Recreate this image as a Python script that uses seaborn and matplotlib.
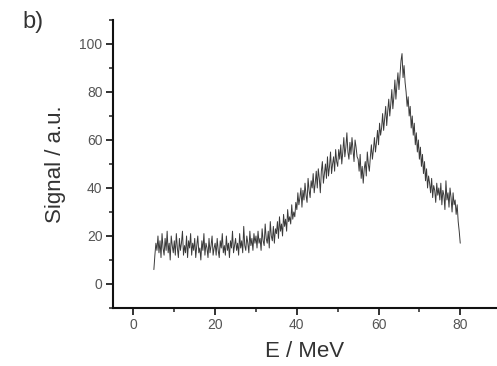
import numpy as np
import pandas as pd
import matplotlib
matplotlib.use("Agg")
import matplotlib.pyplot as plt
import seaborn as sns
from matplotlib.ticker import MultipleLocator

e_start, e_stop, n_points = 5.0, 80.0, 301
signal = [
    6, 12, 17, 14, 20, 13, 18, 11, 21, 15, 12, 19, 14, 22, 13, 17, 10, 20, 16, 13,
    18, 12, 21, 15, 11, 19, 14, 17, 22, 12, 16, 13, 20, 11, 18, 15, 21, 12, 17, 14,
    19, 11, 16, 20, 13, 15, 10, 18, 14, 21, 12, 17, 15, 11, 19, 13, 16, 20, 12, 15,
    17, 12, 19, 14, 11, 18, 15, 21, 13, 16, 12, 20, 14, 17, 11, 18, 15, 22, 13, 16,
    19, 14, 17, 12, 21, 15, 18, 13, 24, 16, 14, 20, 17, 13, 22, 16, 19, 14, 21, 17,
    20, 15, 22, 17, 19, 14, 23, 18, 16, 25, 19, 17, 22, 15, 26, 20, 18, 24, 17, 23,
    21, 26, 19, 28, 22, 25, 20, 29, 24, 27, 22, 31, 26, 28, 25, 33, 27, 30, 28, 34,
    31, 38, 33, 36, 40, 32, 39, 35, 42, 37, 34, 44, 39, 36, 43, 40, 46, 38, 42, 47,
    40, 48, 44, 38, 47, 51, 42, 46, 50, 44, 53, 45, 49, 55, 46, 50, 53, 47, 56, 51,
    49, 56, 52, 58, 50, 55, 61, 53, 57, 63, 55, 52, 59, 54, 61, 56, 51, 60, 57, 53,
    52, 47, 54, 44, 49, 42, 48, 51, 45, 55, 50, 47, 53, 58, 52, 56, 61, 55, 59, 64,
    58, 67, 62, 65, 71, 64, 69, 74, 66, 72, 77, 70, 75, 81, 73, 78, 85, 77, 83, 88,
    81, 87, 93, 96, 86, 91, 84, 80, 74, 78, 70, 74, 65, 70, 62, 67, 58, 63, 55, 60,
    52, 57, 49, 54, 46, 51, 43, 48, 40, 45, 42, 38, 44, 36, 41, 39, 34, 42, 37, 40,
    35, 42, 33, 39, 37, 31, 43, 35, 38, 32, 40, 36, 30, 38, 33, 35, 29, 33, 26, 22,
    17,
]
x_ticks = [0, 20, 40, 60, 80]
y_ticks = [0, 20, 40, 60, 80, 100]
panel_label = "b)"
x_label = "E / MeV"
y_label = "Signal / a.u."

energy = np.linspace(e_start, e_stop, n_points)
df = pd.DataFrame({"E": energy, "Signal": signal})

sns.set_theme(style="ticks")
plt.rcParams["font.family"] = ["Liberation Sans", "DejaVu Sans"]

fig = plt.figure(figsize=(4.97, 3.66), dpi=100)
ax = fig.add_axes([0.2274, 0.1585, 0.7726, 0.7869])

sns.lineplot(data=df, x="E", y="Signal", ax=ax, color="#3a3a3a",
             linewidth=0.7, estimator=None, sort=False)

ax.set_xlim(-5, 89)
ax.set_ylim(-10, 110)
ax.set_xticks(x_ticks)
ax.set_yticks(y_ticks)
ax.xaxis.set_minor_locator(MultipleLocator(10))
ax.yaxis.set_minor_locator(MultipleLocator(10))
ax.tick_params(which="major", direction="out", length=5, width=1.3,
               labelsize=10, labelcolor="#555555", color="#222222", pad=2.5)
ax.tick_params(which="minor", direction="out", length=3, width=1.1, color="#222222")

for s in ["top", "right"]:
    ax.spines[s].set_visible(False)
for s in ["left", "bottom"]:
    ax.spines[s].set_linewidth(1.5)
    ax.spines[s].set_color("#111111")

ax.set_xlabel(x_label, fontsize=16, color="#333333", labelpad=6)
ax.set_ylabel(y_label, fontsize=16, color="#333333", labelpad=10)

fig.text(0.045, 0.94, panel_label, fontsize=17, color="#333333",
         ha="left", va="center")

fig.savefig("out.png", dpi=100)
